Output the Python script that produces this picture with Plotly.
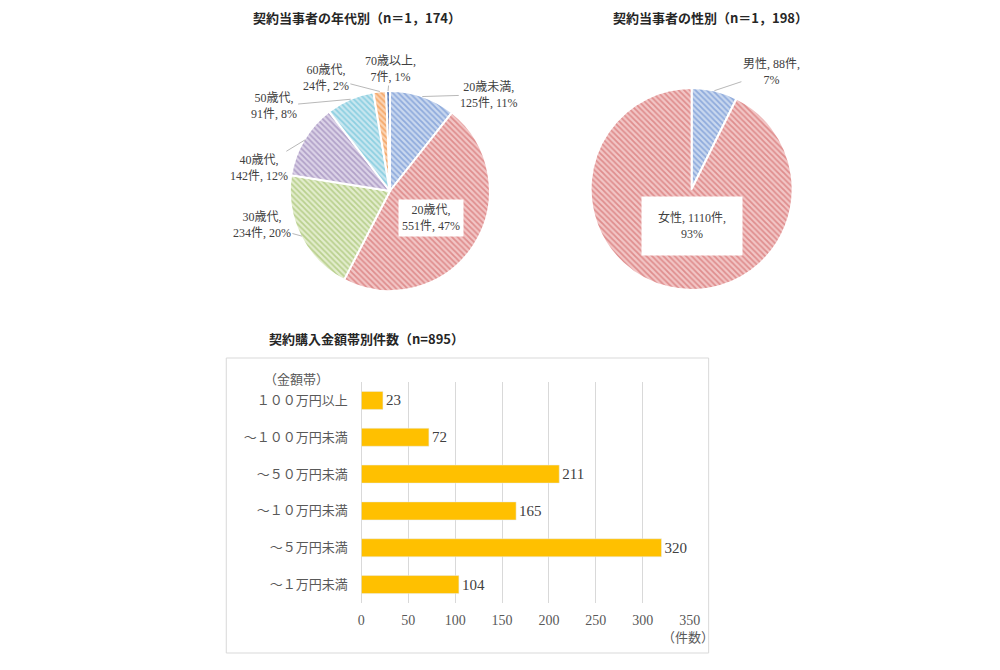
import math
import plotly.graph_objects as go

W, H = 984, 654
OFFX, SX, OFFY = 10.9, 0.985, 8  # measured page placement of the figure

# ---- data ----
age_labels = ["20歳未満", "20歳代", "30歳代", "40歳代", "50歳代", "60歳代", "70歳以上"]
age_values = [125, 551, 234, 142, 91, 24, 7]
age_bg = ["#c9d8ef", "#f2c6c6", "#e3edcd", "#dcd3e8", "#c8e7f0", "#fbd4b4", "#6f8fc4"]
age_fg = ["#8eaadc", "#df8d8d", "#b9d08e", "#b1a1c8", "#8ccfe1", "#f4a86a", "#4a6aa6"]

sex_labels = ["男性", "女性"]
sex_values = [88, 1110]
sex_bg = ["#c9d8ef", "#f2c6c6"]
sex_fg = ["#8eaadc", "#df8d8d"]

amount_labels = ["１００万円以上", "～１００万円未満", "～５０万円未満", "～１０万円未満", "～５万円未満", "～１万円未満"]
amount_values = [23, 72, 211, 165, 320, 104]
amount_ticks = [0, 50, 100, 150, 200, 250, 300, 350]

SERIF = "Liberation Serif, Noto Sans CJK JP, serif"
GOTHIC = "Noto Sans CJK JP, sans-serif"
TXT = "#404040"


def fx(x):
    return ((x - OFFX) / SX) / W


def fy(y):
    return (H - (y - OFFY)) / H


pie1_dom = dict(x=[fx(288), fx(489)], y=[fy(291), fy(91)])
pie2_dom = dict(x=[fx(589), fx(791)], y=[fy(290), fy(88)])

fig = go.Figure()

fig.add_trace(go.Pie(
    labels=age_labels, values=age_values, sort=False, direction="clockwise", rotation=0,
    domain=pie1_dom, textinfo="none", showlegend=False,
    marker=dict(colors=age_bg, line=dict(color="white", width=2),
                pattern=dict(shape="\\", fgcolor=age_fg, bgcolor=age_bg, size=4, solidity=0.45)),
))
fig.add_trace(go.Pie(
    labels=sex_labels, values=sex_values, sort=False, direction="clockwise", rotation=0,
    domain=pie2_dom, textinfo="none", showlegend=False,
    marker=dict(colors=sex_bg, line=dict(color="white", width=2),
                pattern=dict(shape="\\", fgcolor=sex_fg, bgcolor=sex_bg, size=4, solidity=0.45)),
))

fig.add_trace(go.Bar(
    y=amount_labels, x=amount_values, orientation="h", width=0.49,
    marker=dict(color="#ffc000"), text=amount_values, textposition="outside",
    textfont=dict(family=SERIF, size=15, color=TXT), cliponaxis=False,
    showlegend=False, xaxis="x", yaxis="y",
))

annotations = []


def pie_points(values, dom, frac_r):
    cx = (dom["x"][0] + dom["x"][1]) / 2 * W
    cy = H - (dom["y"][0] + dom["y"][1]) / 2 * H
    r = min((dom["x"][1] - dom["x"][0]) * W, (dom["y"][1] - dom["y"][0]) * H) / 2
    total = sum(values)
    pts = []
    cum = 0
    for v in values:
        mid = (cum + v / 2) / total * 2 * math.pi
        cum += v
        px = cx + r * frac_r * math.sin(mid)
        py = cy - r * frac_r * math.cos(mid)
        pts.append((px / W, (H - py) / H))
    return pts


def pct(v, total):
    return f"{round(v / total * 100)}%"


def txt_ann(x, y, text, size=12, color=TXT, family=SERIF, **kw):
    d = dict(x=x, y=y, xref="paper", yref="paper", text=text, showarrow=False,
             xanchor="center", yanchor="middle",
             font=dict(family=family, size=size, color=color))
    d.update(kw)
    return d


# age pie labels: offsets (pixels) from slice edge to label centre
age_total = sum(age_values)
age_offsets = [(67, -2), None, (-40, -11), (-46, 28), (-77, 7), (-54, -14), (2, -22)]
edge = pie_points(age_values, pie1_dom, 1.0)
half = pie_points(age_values, pie1_dom, 0.5)
for i, lab in enumerate(age_labels):
    txt = f"{lab},<br>{age_values[i]}件, {pct(age_values[i], age_total)}"
    if age_offsets[i] is None:
        annotations.append(txt_ann(half[i][0], half[i][1], txt, bgcolor="white", borderpad=3))
    else:
        ax, ay = age_offsets[i]
        annotations.append(txt_ann(edge[i][0], edge[i][1], txt, showarrow=True, arrowhead=0,
                                   arrowwidth=0.8, arrowcolor="#a6a6a6", ax=ax, ay=ay,
                                   standoff=0, borderpad=1))

sex_total = sum(sex_values)
edge2 = pie_points(sex_values, pie2_dom, 1.0)
annotations.append(txt_ann(edge2[0][0], edge2[0][1],
                           f"{sex_labels[0]}, {sex_values[0]}件,<br>{pct(sex_values[0], sex_total)}",
                           showarrow=True, arrowhead=0, arrowwidth=0.8, arrowcolor="#a6a6a6",
                           ax=57, ay=-19, standoff=0, borderpad=1))
annotations.append(txt_ann(fx(690), fy(226),
                           f"{sex_labels[1]}, {sex_values[1]}件,<br>{pct(sex_values[1], sex_total)}",
                           bgcolor="white", width=96, height=54, borderpad=2))

# titles and axis captions
annotations.append(txt_ann(fx(356), fy(18), "<b>契約当事者の年代別（n＝1，174）</b>",
                           size=13, color="#262626", family=GOTHIC))
annotations.append(txt_ann(fx(709), fy(18), "<b>契約当事者の性別（n＝1，198）</b>",
                           size=13, color="#262626", family=GOTHIC))
annotations.append(txt_ann(fx(365), fy(338), "<b>契約購入金額帯別件数（n=895）</b>",
                           size=13, color="#262626", family=GOTHIC))
annotations.append(txt_ann(fx(295), fy(380), "（金額帯）", size=13, color="#595959"))
annotations.append(txt_ann(fx(686), fy(637), "（件数）", size=13, color="#595959"))

fig.update_layout(
    width=W, height=H, margin=dict(l=0, r=0, t=0, b=0),
    paper_bgcolor="white", plot_bgcolor="white",
    annotations=annotations,
    xaxis=dict(domain=[fx(360), fx(688)], range=[0, 350], tickvals=amount_ticks,
               showgrid=True, gridcolor="#d9d9d9", gridwidth=1,
               zeroline=True, zerolinecolor="#d9d9d9", zerolinewidth=1,
               showline=False, ticks="outside", ticklen=4, tickcolor="rgba(0,0,0,0)",
               tickfont=dict(family=SERIF, size=14, color="#595959"), anchor="y"),
    yaxis=dict(domain=[fy(603), fy(382)], categoryorder="array",
               categoryarray=amount_labels, autorange="reversed",
               showgrid=False, zeroline=False, showline=False,
               ticks="outside", ticklen=10, tickcolor="rgba(0,0,0,0)",
               tickfont=dict(family=SERIF, size=13, color="#595959"), anchor="x"),
    shapes=[dict(type="rect", xref="paper", yref="paper",
                 x0=fx(225), x1=fx(707), y0=fy(653), y1=fy(358),
                 line=dict(color="#d9d9d9", width=1), fillcolor="rgba(0,0,0,0)", layer="below")],
    bargap=0.5,
)

fig.write_html("out.html")
